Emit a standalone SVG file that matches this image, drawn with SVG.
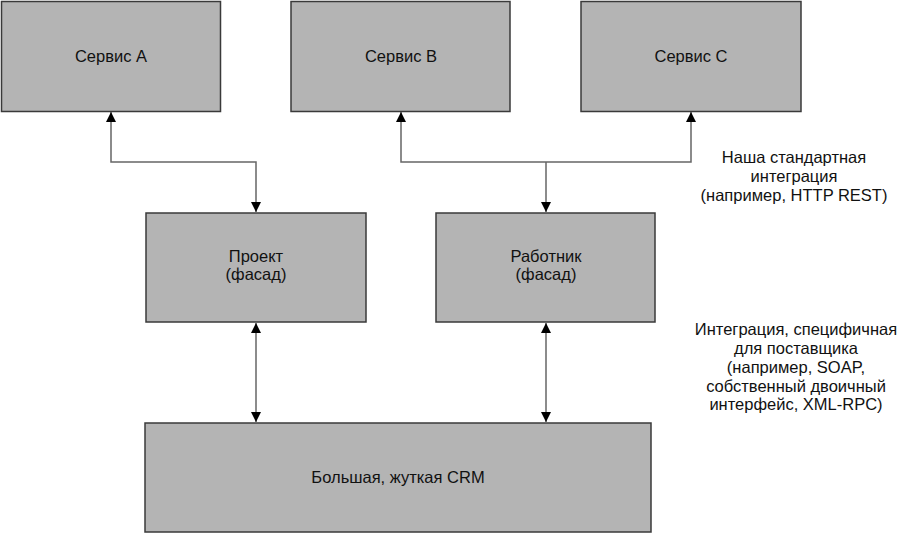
<svg xmlns="http://www.w3.org/2000/svg" width="903" height="536" viewBox="0 0 903 536">
<style>
.box{fill:#b4b4b4;stroke:#3a3a3a;stroke-width:1.5}
.t{font-family:"Liberation Sans",Arial,sans-serif;font-size:16.5px;fill:#111;text-anchor:middle}
.c{fill:none;stroke:#666;stroke-width:1.5}
</style>
<defs>
<marker id="ah" viewBox="0 0 10 10" refX="10" refY="5" markerWidth="10" markerHeight="10" markerUnits="userSpaceOnUse" orient="auto-start-reverse">
<path d="M0,0 L10,5 L0,10 Z" fill="#000"/>
</marker>
</defs>
<rect width="903" height="536" fill="#fff"/>
<g id="connectors">
<path class="c" d="M111,112 V162 H256 V212" marker-start="url(#ah)" marker-end="url(#ah)"/>
<path class="c" d="M401,112 V162 H691 V112" marker-start="url(#ah)" marker-end="url(#ah)"/>
<path class="c" d="M546,162 V212" marker-end="url(#ah)"/>
<path class="c" d="M256,323 V422" marker-start="url(#ah)" marker-end="url(#ah)"/>
<path class="c" d="M546,323 V422" marker-start="url(#ah)" marker-end="url(#ah)"/>
</g>
<g id="serviceA"><rect class="box" x="1.5" y="1.5" width="219" height="110"/><text class="t" x="111" y="62">Сервис A</text></g>
<g id="serviceB"><rect class="box" x="291" y="1.5" width="219" height="110"/><text class="t" x="401" y="62">Сервис B</text></g>
<g id="serviceC"><rect class="box" x="581" y="1.5" width="220" height="110"/><text class="t" x="691" y="62">Сервис C</text></g>
<g id="project"><rect class="box" x="146" y="213" width="220" height="109"/><text class="t" x="256" y="262">Проект</text><text class="t" x="256" y="280">(фасад)</text></g>
<g id="worker"><rect class="box" x="436" y="213" width="219" height="109"/><text class="t" x="546" y="262">Работник</text><text class="t" x="546" y="280">(фасад)</text></g>
<g id="crm"><rect class="box" x="145" y="423" width="506" height="109"/><text class="t" x="398" y="483">Большая, жуткая CRM</text></g>
<g id="label1">
<text class="t" x="794" y="163">Наша стандартная</text>
<text class="t" x="794" y="182">интеграция</text>
<text class="t" x="794" y="201">(например, HTTP REST)</text>
</g>
<g id="label2">
<text class="t" x="796" y="335">Интеграция, специфичная</text>
<text class="t" x="796" y="354">для поставщика</text>
<text class="t" x="796" y="373">(например, SOAP,</text>
<text class="t" x="796" y="392">собственный двоичный</text>
<text class="t" x="796" y="410">интерфейс, XML-RPC)</text>
</g>
</svg>
